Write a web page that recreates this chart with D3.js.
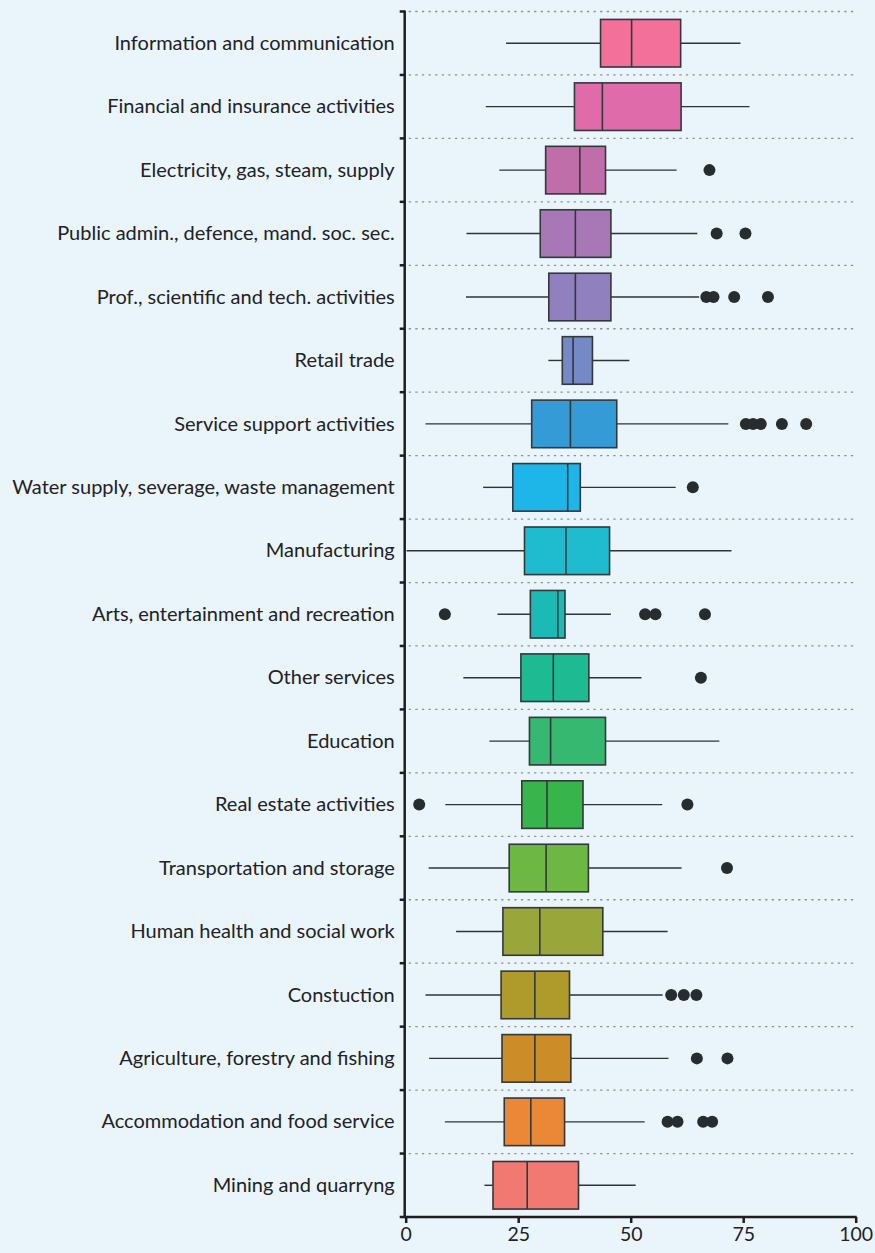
<!DOCTYPE html>
<html>
<head>
<meta charset="utf-8">
<script src="https://cdn.jsdelivr.net/npm/d3@7"></script>
<style>
  html, body { margin: 0; padding: 0; background: #eaf4fb; }
  svg { display: block; }
</style>
</head>
<body>
<svg id="chart" width="875" height="1253"></svg>
<script>
const categories = [
  "Information and communication",
  "Financial and insurance activities",
  "Electricity, gas, steam, supply",
  "Public admin., defence, mand. soc. sec.",
  "Prof., scientific and tech. activities",
  "Retail trade",
  "Service support activities",
  "Water supply, severage, waste management",
  "Manufacturing",
  "Arts, entertainment and recreation",
  "Other services",
  "Education",
  "Real estate activities",
  "Transportation and storage",
  "Human health and social work",
  "Constuction",
  "Agriculture, forestry and fishing",
  "Accommodation and food service",
  "Mining and quarryng"
];
const whiskerLow  = [22.3, 17.8, 20.8, 13.5, 13.4, 31.7, 4.4, 17.2, 0.2, 20.4, 12.8, 18.6, 8.8, 5.1, 11.2, 4.4, 5.2, 8.7, 17.5];
const q1          = [43.3, 37.5, 31.1, 29.9, 31.8, 34.8, 28.0, 23.8, 26.4, 27.7, 25.6, 27.5, 25.8, 23.0, 21.6, 21.2, 21.4, 21.9, 19.4];
const median      = [50.2, 43.7, 38.7, 37.7, 37.7, 37.2, 36.6, 36.0, 35.6, 33.8, 32.8, 32.2, 31.4, 31.2, 29.8, 28.7, 28.7, 27.8, 27.0];
const q3          = [61.1, 61.2, 44.4, 45.6, 45.6, 41.5, 46.9, 38.8, 45.3, 35.4, 40.7, 44.4, 39.4, 40.6, 43.8, 36.4, 36.7, 35.3, 38.4];
const whiskerHigh = [74.4, 76.4, 60.2, 64.8, 65.2, 49.7, 71.7, 60.0, 72.4, 45.6, 52.4, 69.7, 57.0, 61.3, 58.2, 57.1, 58.4, 53.1, 51.1];
const outliers = [
  [],
  [],
  [67.5],
  [69.1, 75.5],
  [66.8, 68.4, 73.0, 80.5],
  [],
  [75.6, 77.2, 78.9, 83.6, 89.0],
  [63.8],
  [],
  [8.7, 53.2, 55.5, 66.5],
  [65.6],
  [],
  [3.0, 62.6],
  [71.4],
  [],
  [59.0, 61.8, 64.6],
  [64.7, 71.5],
  [58.2, 60.4, 66.1, 68.1],
  []
];
const colors = [
  "#f2709a", "#e06baa", "#c06eaa", "#a877b5", "#9080bd", "#7589c6",
  "#359bd6", "#1eb5e8", "#1fbcd0", "#1dbab5", "#1ebb93", "#37b871",
  "#38b54a", "#6db843", "#98a63a", "#af9a2c", "#cc8c28", "#eb8838", "#f27872"
];
const xTicks = [0, 25, 50, 75, 100];

(function () {
const svg = d3.select("#chart");
const mLeft = 405.7, mRight = 855.7, mTop = 11.5, mBottom = 1217;

const x = d3.scaleLinear().domain([0, 100]).range([mLeft, mRight]);
const y = d3.scaleBand().domain(categories).range([mTop, mBottom]).paddingInner(0).paddingOuter(0);
const bw = y.bandwidth();
const boxH = bw * 0.75;

// dotted separators
const seps = categories.map(c => y(c));
svg.append("g").selectAll("line").data(seps).join("line")
  .attr("x1", mLeft + 3).attr("x2", mRight - 2)
  .attr("y1", d => d).attr("y2", d => d)
  .attr("stroke", "#8c9196").attr("stroke-width", 1.3)
  .attr("stroke-dasharray", "2.3,4.3");

const rows = svg.append("g").selectAll("g").data(categories).join("g")
  .attr("transform", c => `translate(0,${y(c) + bw / 2})`);

// whiskers
rows.append("line")
  .attr("x1", (c, i) => x(whiskerLow[i])).attr("x2", (c, i) => x(q1[i]))
  .attr("stroke", "#2f3336").attr("stroke-width", 1.4);
rows.append("line")
  .attr("x1", (c, i) => x(q3[i])).attr("x2", (c, i) => x(whiskerHigh[i]))
  .attr("stroke", "#2f3336").attr("stroke-width", 1.4);

// boxes
rows.append("rect")
  .attr("x", (c, i) => x(q1[i]))
  .attr("width", (c, i) => x(q3[i]) - x(q1[i]))
  .attr("y", -boxH / 2).attr("height", boxH)
  .attr("fill", (c, i) => colors[i])
  .attr("stroke", "#33383b").attr("stroke-width", 1.6);

// medians
rows.append("line")
  .attr("x1", (c, i) => x(median[i])).attr("x2", (c, i) => x(median[i]))
  .attr("y1", -boxH / 2).attr("y2", boxH / 2)
  .attr("stroke", "#33383b").attr("stroke-width", 1.6);

// outliers
rows.each(function (c, i) {
  d3.select(this).selectAll("circle").data(outliers[i]).join("circle")
    .attr("cx", d => x(d)).attr("cy", 0).attr("r", 6)
    .attr("fill", "#272c2f");
});

// category labels
rows.append("text")
  .attr("x", mLeft - 11).attr("y", 0)
  .attr("dy", "0.33em")
  .attr("text-anchor", "end")
  .attr("font-family", "Lato, 'Open Sans', sans-serif")
  .attr("font-size", 20)
  .attr("fill", "#222")
  .text(c => c);

// y axis line + ticks
svg.append("line")
  .attr("x1", mLeft - 1).attr("x2", mLeft - 1)
  .attr("y1", mTop - 1).attr("y2", mBottom + 1)
  .attr("stroke", "#1e1e1e").attr("stroke-width", 2.5);
const yTickPos = seps.concat([mBottom]);
svg.append("g").selectAll("line").data(yTickPos).join("line")
  .attr("x1", mLeft - 6).attr("x2", mLeft - 1)
  .attr("y1", d => d).attr("y2", d => d)
  .attr("stroke", "#1e1e1e").attr("stroke-width", 2.5);

// x axis
const xAxis = d3.axisBottom(x).tickValues(xTicks).tickSize(6).tickPadding(4).tickFormat(d3.format("d"));
const gx = svg.append("g").attr("transform", `translate(0,${mBottom})`).call(xAxis);
gx.select(".domain").attr("stroke", "#1e1e1e").attr("stroke-width", 2.5).attr("d", `M${mLeft - 2},0H${mRight + 1}`);
gx.selectAll(".tick line").attr("stroke", "#1e1e1e").attr("stroke-width", 2.5);
gx.selectAll(".tick text")
  .attr("font-family", "Lato, 'Open Sans', sans-serif")
  .attr("font-size", 19.5).attr("fill", "#222");
})();
</script>
</body>
</html>
